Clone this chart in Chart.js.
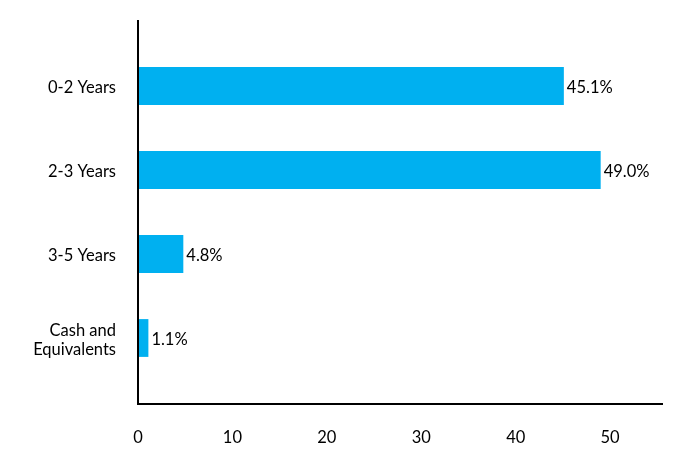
<!DOCTYPE html>
<html><head><meta charset="utf-8">
<script src="https://cdn.jsdelivr.net/npm/chart.js@4/dist/chart.umd.min.js"></script>
<style>html,body{margin:0;padding:0;background:#fff}#wrap{width:696px;height:468px}</style>
</head><body><div id="wrap"><canvas id="c"></canvas></div>
<script>
const categories = [["0-2 Years"], ["2-3 Years"], ["3-5 Years"], ["Cash and", "Equivalents"]];
const values = [45.1, 49.0, 4.8, 1.1];
const valueLabels = ["45.1%", "49.0%", "4.8%", "1.1%"];
const xTicks = [0, 10, 20, 30, 40, 50];

const FONT = "Lato, 'Open Sans', sans-serif";
const FSIZE = 16.5;

const axisLines = {
  id: 'axisLines',
  afterDatasetsDraw(chart) {
    const ctx = chart.ctx, a = chart.chartArea;
    ctx.save();
    ctx.strokeStyle = '#000';
    ctx.lineWidth = 2;
    ctx.beginPath();
    ctx.moveTo(a.left, a.top - 24);
    ctx.lineTo(a.left, a.bottom + 24);
    ctx.lineTo(a.right, a.bottom + 24);
    ctx.stroke();
    // data labels
    ctx.fillStyle = '#000';
    ctx.font = FSIZE + "px " + FONT;
    ctx.textAlign = 'left';
    ctx.textBaseline = 'middle';
    const meta = chart.getDatasetMeta(0);
    meta.data.forEach((bar, i) => {
      ctx.fillText(valueLabels[i], bar.x + 3, bar.y + 2);
    });
    ctx.restore();
  }
};

new Chart(document.getElementById('c'), {
  type: 'bar',
  data: {
    labels: categories,
    datasets: [{
      data: values,
      backgroundColor: '#00B0F0',
      borderWidth: 0,
      categoryPercentage: 1,
      barPercentage: 0.45
    }]
  },
  options: {
    indexAxis: 'y',
    responsive: true,
    maintainAspectRatio: false,
    animation: false,
    layout: { padding: { top: 44, right: 33, left: 0, bottom: 0 } },
    plugins: { legend: { display: false }, tooltip: { enabled: false } },
    scales: {
      x: {
        min: 0, max: 55.6,
        afterBuildTicks: s => { s.ticks = xTicks.map(v => ({ value: v })); },
        grid: { display: false, drawTicks: false },
        border: { display: false },
        ticks: { color: '#000', font: { size: FSIZE, family: FONT }, padding: 48, maxRotation: 0 },
        afterFit: s => { s.height = 88; }
      },
      y: {
        grid: { display: false, drawTicks: false },
        border: { display: false },
        ticks: { color: '#000', font: { size: FSIZE, family: FONT, lineHeight: 1.15 }, padding: 22, labelOffset: 2 },
        afterFit: s => { s.width = 138; }
      }
    }
  },
  plugins: [axisLines]
});
</script>
</body></html>
